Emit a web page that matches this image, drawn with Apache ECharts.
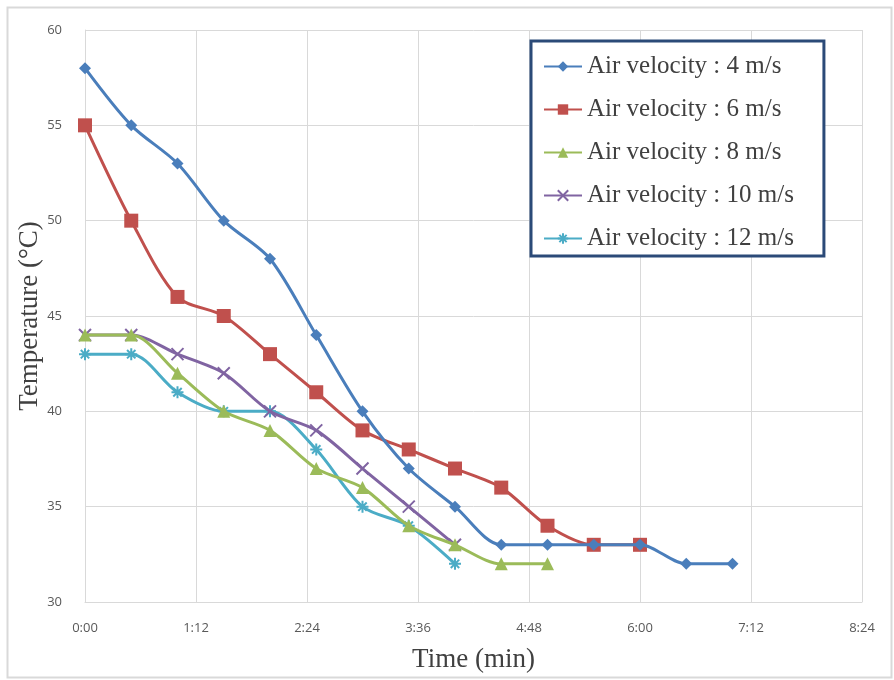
<!DOCTYPE html>
<html><head><meta charset="utf-8">
<script src="https://cdn.jsdelivr.net/npm/echarts@6/dist/echarts.min.js"></script>
<style>html,body{margin:0;padding:0;background:#fff}#c{width:894px;height:680px}</style>
</head><body><div id="c"></div>
<script>
// time in seconds
const t4 = [0,30,60,90,120,150,180,210,240,270,300,330,360,390,420];
const v4 = [58,55,53,50,48,44,40,37,35,33,33,33,33,32,32];
const t6 = [0,30,60,90,120,150,180,210,240,270,300,330,360];
const v6 = [55,50,46,45,43,41,39,38,37,36,34,33,33];
const t8 = [0,30,60,90,120,150,180,210,240,270,300];
const v8 = [44,44,42,40,39,37,36,34,33,32,32];
const t10 = [0,30,60,90,120,150,180,210,240];
const v10 = [44,44,43,42,40,39,37,35,33];
const t12 = [0,30,60,90,120,150,180,210,240];
const v12 = [43,43,41,40,40,38,35,34,32];
const names = ['Air velocity : 4 m/s','Air velocity : 6 m/s','Air velocity : 8 m/s','Air velocity : 10 m/s','Air velocity : 12 m/s'];
const colors = ['#4a7ebb','#c0504d','#9bbb59','#8064a2','#4bacc6'];
const xSym = 'path://M0,0L10,10M10,0L0,10';
const aSym = 'path://M5,0L5,10M0,5L10,5M1.5,1.5L8.5,8.5M8.5,1.5L1.5,8.5';
const symbols = ['diamond','rect','triangle',xSym,aSym];
const sizes = [12,14,13,12,12];
const T = [t4,t6,t8,t10,t12], V = [v4,v6,v8,v10,v12];
function fmt(s){const m=Math.floor(s/60), r=Math.round(s%60);return m+':'+(r<10?'0':'')+r;}
const chart = echarts.init(document.getElementById('c'));
chart.setOption({
  animation:false,
  color: colors,
  graphic:[{type:'rect',left:5,top:5,shape:{width:884,height:670},style:{fill:'none',stroke:'#d9d9d9',lineWidth:2},z:-1}],
  grid:{left:85,right:32,top:30,bottom:78},
  legend:{
    orient:'vertical', left:531, top:41,
    backgroundColor:'#fff', borderColor:'#2b4a78', borderWidth:3, borderRadius:0,
    padding:[13,30,5,12], itemGap:18, itemWidth:38, itemHeight:13,
    textStyle:{fontFamily:'Liberation Serif',fontSize:25,color:'#404040'},
    data:names
  },
  xAxis:{type:'value',min:0,max:504,interval:72,
    name:'Time (min)',nameLocation:'middle',nameGap:44,
    nameTextStyle:{fontFamily:'Liberation Serif',fontSize:27,color:'#404040'},
    axisLine:{show:true,lineStyle:{color:'#d9d9d9'}},axisTick:{show:false},
    axisLabel:{formatter:fmt,fontFamily:'Open Sans',fontSize:13,color:'#595959',margin:20},
    splitLine:{show:true,lineStyle:{color:'#d9d9d9'}}},
  yAxis:{type:'value',min:30,max:60,interval:5,
    name:'Temperature (°C)',nameLocation:'middle',nameGap:42,nameMoveOverlap:false,
    nameTextStyle:{fontFamily:'Liberation Serif',fontSize:27,color:'#404040'},
    axisLine:{show:true,lineStyle:{color:'#d9d9d9'}},axisTick:{show:false},
    axisLabel:{fontFamily:'Open Sans',fontSize:13,color:'#595959',margin:23},
    splitLine:{show:true,lineStyle:{color:'#d9d9d9'}}},
  series: names.map((n,i)=>({
    name:n,type:'line',smooth:0.3,
    data:T[i].map((x,j)=>[x,V[i][j]]),
    symbol:symbols[i],symbolSize:sizes[i],
    lineStyle:{width:3,color:colors[i]},
    itemStyle:{color:colors[i],borderColor:colors[i],borderWidth:(i>=3?2:0)},
    z:10-i
  }))
});
</script></body></html>
